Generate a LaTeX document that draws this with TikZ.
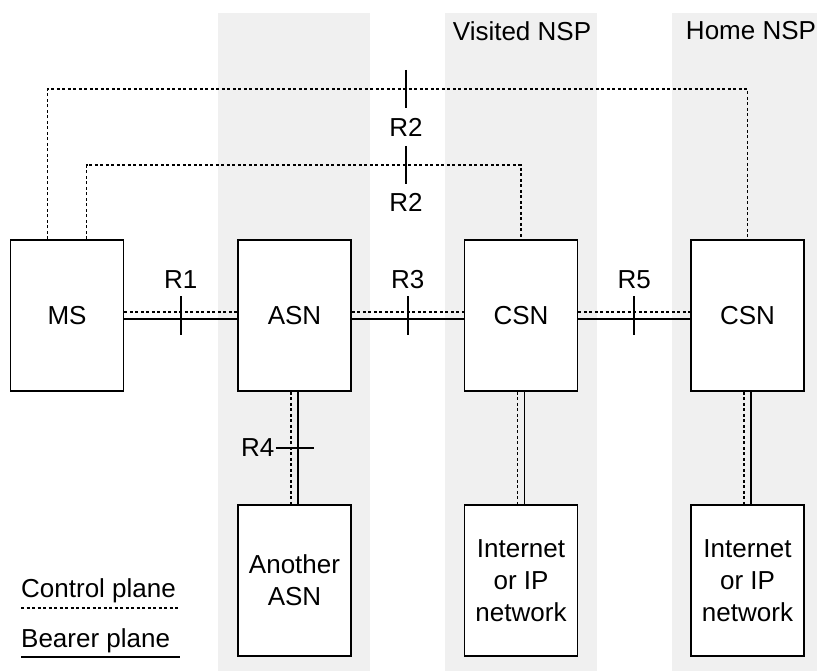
\documentclass[tikz,border=0pt]{standalone}
\usepackage{fontspec}
\setmainfont{Liberation Sans}
\usetikzlibrary{calc}
\definecolor{bandgray}{RGB}{240,240,240}
\begin{document}
\begin{tikzpicture}[x=1pt,y=-1pt,
  box/.style={draw, fill=white, line width=1.8pt, minimum width=113pt,
    minimum height=151pt, inner sep=0pt, align=center,
    font=\fontsize{26}{32}\selectfont},
  lbl/.style={font=\fontsize{26}{30}\selectfont, inner sep=0pt},
  ctrl/.style={line width=1.8pt, dash pattern=on 3pt off 2.5pt},
  bear/.style={line width=1.8pt},
  tickmark/.style={line width=1.8pt}]
\useasboundingbox (0,0) rectangle (817,671);

% background columns
\fill[bandgray] (218,13) rectangle (370,671);
\fill[bandgray] (445,13) rectangle (597,671);
\fill[bandgray] (672,13) rectangle (817,671);
\node[lbl] (vnsp) at (522,31) {Visited NSP};
\node[lbl] (hnsp) at (751,31) {Home NSP};

% network elements
\node[box] (ms)   at (67,315.5)    {MS};
\node[box] (asn)  at (294.5,315.5) {ASN};
\node[box] (csnv) at (521,315.5)   {CSN};
\node[box] (csnh) at (747.5,315.5) {CSN};
\node[box] (asn2) at (294.5,580.5) {Another\\ASN};
\node[box] (inv)  at (521,580.5)   {Internet\\or IP\\network};
\node[box] (inh)  at (747.5,580.5) {Internet\\or IP\\network};

% R2 control paths over the top
\coordinate (r2a) at (406,89);
\coordinate (r2b) at (406,165);
\draw[ctrl] ($(ms.north)+(-19.5,0)$) |- (r2a) -| (csnh.north);
\draw[ctrl] ($(ms.north)+(19.5,0)$) |- (r2b) -| (csnv.north);
\draw[tickmark] ($(r2a)+(0,-19)$) -- ($(r2a)+(0,19)$);
\draw[tickmark] ($(r2b)+(0,-19)$) -- ($(r2b)+(0,19)$);
\node[lbl] (r2alab) at ($(r2a)+(0,38)$) {R2};
\node[lbl] (r2blab) at ($(r2b)+(0,37)$) {R2};

% horizontal reference points R1, R3, R5
\foreach \a/\b/\r in {ms/asn/R1, asn/csnv/R3, csnv/csnh/R5}{
  \draw[ctrl] ($(\a.east)+(0,-3.5)$) -- ($(\b.west)+(0,-3.5)$);
  \draw[bear] ($(\a.east)+(0,3.5)$) -- ($(\b.west)+(0,3.5)$);
  \coordinate (\r) at ($(\a.east)!0.5!(\b.west)$);
  \draw[tickmark] ($(\r)+(0,-19)$) -- ($(\r)+(0,19)$);
  \node[lbl] at ($(\r)+(0,-36)$) {\r};
}

% vertical links to the lower boxes
\foreach \a/\b in {asn/asn2, csnv/inv, csnh/inh}{
  \draw[ctrl] ($(\a.south)+(-3.5,0)$) -- ($(\b.north)+(-3.5,0)$);
  \draw[bear] ($(\a.south)+(3.5,0)$) -- ($(\b.north)+(3.5,0)$);
}
\coordinate (r4) at ($(asn.south)!0.5!(asn2.north)$);
\draw[tickmark] ($(r4)+(-19,0)$) -- ($(r4)+(19,0)$);
\node[lbl, anchor=east] (r4lab) at ($(r4)+(-20,0)$) {R4};

% legend
\node[lbl, anchor=base west] (ctrllab) at (21,597) {Control plane};
\draw[ctrl] ($(ctrllab.base west)+(0,11)$) -- ++(159,0);
\node[lbl, anchor=base west] (bearlab) at (21,647) {Bearer plane};
\draw[bear] ($(bearlab.base west)+(0,10)$) -- ++(159,0);
\end{tikzpicture}
\end{document}
